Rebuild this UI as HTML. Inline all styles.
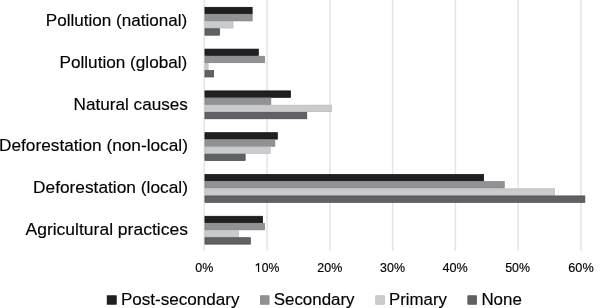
<!DOCTYPE html><html><head><meta charset="utf-8"><style>html,body{margin:0;padding:0;background:#fff;width:613px;height:308px;overflow:hidden}svg{display:block}.t{filter:grayscale(1)}text{font-family:"Liberation Sans",sans-serif;fill:#000;stroke:#000;stroke-width:0.15px}</style></head><body>
<svg width="613" height="308" viewBox="0 0 613 308">
<rect width="613" height="308" fill="#fff"/>
<rect x="203.51" y="0" width="1.5" height="251" fill="#e4e4e4"/>
<rect x="266.30" y="0" width="1.5" height="251" fill="#e4e4e4"/>
<rect x="329.09" y="0" width="1.5" height="251" fill="#e4e4e4"/>
<rect x="391.88" y="0" width="1.5" height="251" fill="#e4e4e4"/>
<rect x="454.67" y="0" width="1.5" height="251" fill="#e4e4e4"/>
<rect x="517.46" y="0" width="1.5" height="251" fill="#e4e4e4"/>
<rect x="580.25" y="0" width="1.5" height="251" fill="#e4e4e4"/>
<rect x="204.95" y="7.30" width="47.20" height="6.45" fill="#221f20" stroke="#0c0a0b" stroke-width="0.7"/>
<rect x="204.95" y="14.45" width="47.20" height="6.45" fill="#919295" stroke="#7d7e81" stroke-width="0.7"/>
<rect x="204.95" y="21.60" width="28.10" height="6.45" fill="#cacbcd" stroke="#b9babc" stroke-width="0.7"/>
<rect x="204.95" y="28.75" width="14.60" height="6.45" fill="#606164" stroke="#48494b" stroke-width="0.7"/>
<rect x="204.95" y="49.09" width="53.40" height="6.45" fill="#221f20" stroke="#0c0a0b" stroke-width="0.7"/>
<rect x="204.95" y="56.24" width="59.60" height="6.45" fill="#919295" stroke="#7d7e81" stroke-width="0.7"/>
<rect x="204.95" y="63.39" width="3.20" height="6.45" fill="#cacbcd" stroke="#b9babc" stroke-width="0.7"/>
<rect x="204.95" y="70.54" width="8.70" height="6.45" fill="#606164" stroke="#48494b" stroke-width="0.7"/>
<rect x="204.95" y="90.88" width="85.50" height="6.45" fill="#221f20" stroke="#0c0a0b" stroke-width="0.7"/>
<rect x="204.95" y="98.03" width="65.90" height="6.45" fill="#919295" stroke="#7d7e81" stroke-width="0.7"/>
<rect x="204.95" y="105.18" width="126.40" height="6.45" fill="#cacbcd" stroke="#b9babc" stroke-width="0.7"/>
<rect x="204.95" y="112.33" width="101.80" height="6.45" fill="#606164" stroke="#48494b" stroke-width="0.7"/>
<rect x="204.95" y="132.67" width="72.40" height="6.45" fill="#221f20" stroke="#0c0a0b" stroke-width="0.7"/>
<rect x="204.95" y="139.82" width="69.90" height="6.45" fill="#919295" stroke="#7d7e81" stroke-width="0.7"/>
<rect x="204.95" y="146.97" width="65.30" height="6.45" fill="#cacbcd" stroke="#b9babc" stroke-width="0.7"/>
<rect x="204.95" y="154.12" width="40.20" height="6.45" fill="#606164" stroke="#48494b" stroke-width="0.7"/>
<rect x="204.95" y="174.46" width="278.70" height="6.45" fill="#221f20" stroke="#0c0a0b" stroke-width="0.7"/>
<rect x="204.95" y="181.61" width="299.30" height="6.45" fill="#919295" stroke="#7d7e81" stroke-width="0.7"/>
<rect x="204.95" y="188.76" width="349.70" height="6.45" fill="#cacbcd" stroke="#b9babc" stroke-width="0.7"/>
<rect x="204.95" y="195.91" width="379.90" height="6.45" fill="#606164" stroke="#48494b" stroke-width="0.7"/>
<rect x="204.95" y="216.25" width="57.70" height="6.45" fill="#221f20" stroke="#0c0a0b" stroke-width="0.7"/>
<rect x="204.95" y="223.40" width="59.60" height="6.45" fill="#919295" stroke="#7d7e81" stroke-width="0.7"/>
<rect x="204.95" y="230.55" width="33.50" height="6.45" fill="#cacbcd" stroke="#b9babc" stroke-width="0.7"/>
<rect x="204.95" y="237.70" width="45.40" height="6.45" fill="#606164" stroke="#48494b" stroke-width="0.7"/>
<rect x="107.15" y="295.75" width="9.10" height="8.50" fill="#221f20" stroke="#0c0a0b" stroke-width="0.7"/>
<rect x="260.45" y="295.75" width="8.60" height="8.50" fill="#919295" stroke="#7d7e81" stroke-width="0.7"/>
<rect x="375.75" y="295.75" width="8.60" height="8.50" fill="#cacbcd" stroke="#b9babc" stroke-width="0.7"/>
<rect x="467.85" y="295.75" width="8.60" height="8.50" fill="#606164" stroke="#48494b" stroke-width="0.7"/>
<g class="t">
<text x="45.80" y="25.80" font-size="16.4" textLength="141.50" lengthAdjust="spacingAndGlyphs">Pollution (national)</text>
<text x="59.50" y="67.70" font-size="16.4" textLength="127.80" lengthAdjust="spacingAndGlyphs">Pollution (global)</text>
<text x="73.50" y="110.10" font-size="16.4" textLength="114.40" lengthAdjust="spacingAndGlyphs">Natural causes</text>
<text x="-1.00" y="151.10" font-size="16.4" textLength="188.90" lengthAdjust="spacingAndGlyphs">Deforestation (non-local)</text>
<text x="33.00" y="192.80" font-size="16.4" textLength="154.90" lengthAdjust="spacingAndGlyphs">Deforestation (local)</text>
<text x="25.50" y="234.60" font-size="16.4" textLength="162.40" lengthAdjust="spacingAndGlyphs">Agricultural practices</text>
<text x="195.30" y="272.00" font-size="12.1" textLength="18.00" lengthAdjust="spacingAndGlyphs">0%</text>
<path d="M255.75 265.45 L258.55 263.5 M258.55 263.3 L258.55 271.9" stroke="#000" stroke-width="1.15" fill="none"/>
<text x="261.80" y="272.00" font-size="12.1" textLength="17.60" lengthAdjust="spacingAndGlyphs">0%</text>
<text x="317.30" y="272.00" font-size="12.1" textLength="24.90" lengthAdjust="spacingAndGlyphs">20%</text>
<text x="380.10" y="272.00" font-size="12.1" textLength="24.90" lengthAdjust="spacingAndGlyphs">30%</text>
<text x="442.40" y="272.00" font-size="12.1" textLength="25.30" lengthAdjust="spacingAndGlyphs">40%</text>
<text x="505.20" y="272.00" font-size="12.1" textLength="24.80" lengthAdjust="spacingAndGlyphs">50%</text>
<text x="568.30" y="272.00" font-size="12.1" textLength="25.40" lengthAdjust="spacingAndGlyphs">60%</text>
<text x="120.90" y="304.50" font-size="15.8" textLength="118.70" lengthAdjust="spacingAndGlyphs">Post-secondary</text>
<text x="273.70" y="304.50" font-size="15.8" textLength="80.90" lengthAdjust="spacingAndGlyphs">Secondary</text>
<text x="389.00" y="304.50" font-size="15.8" textLength="57.90" lengthAdjust="spacingAndGlyphs">Primary</text>
<text x="481.40" y="304.50" font-size="15.8" textLength="40.45" lengthAdjust="spacingAndGlyphs">None</text>
</g>
</svg></body></html>
